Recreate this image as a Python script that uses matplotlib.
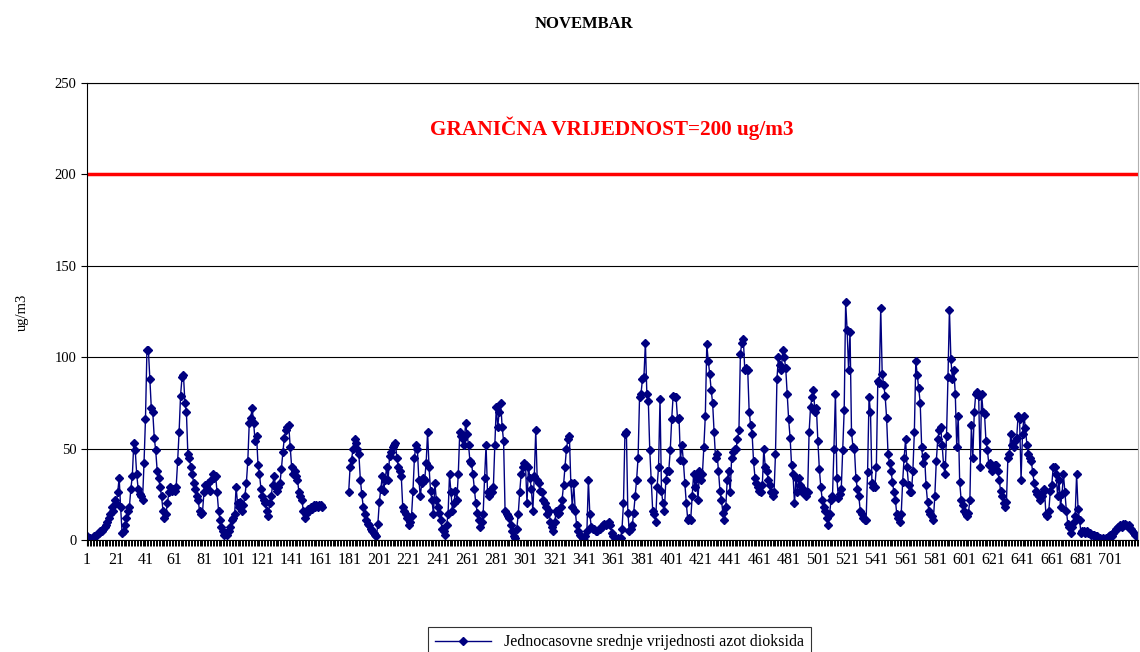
import numpy as np
import matplotlib.pyplot as plt

plt.rcParams['font.family'] = ['Liberation Serif', 'DejaVu Serif']

nan = np.nan

# hourly NO2 values (ug/m3), one list per day of November
day01 = [2, 1, 1, 0, 1, 2, 3, 3, 4, 5, 5, 6, 7, 8, 10, 12, 14, 18, 16, 22, 20, 26, 34, 18]
day02 = [4, 5, 8, 12, 16, 18, 28, 35, 53, 49, 36, 28, 25, 24, 22, 42, 66, 104, 104, 88, 72, 70, 56, 49]
day03 = [38, 34, 29, 24, 16, 12, 14, 20, 26, 29, 27, 28, 27, 29, 43, 59, 79, 89, 90, 75, 70, 47, 45, 40]
day04 = [36, 31, 28, 24, 22, 16, 14, 15, 26, 30, 28, 31, 27, 33, 36, 34, 35, 26, 16, 11, 7, 5, 3, 4]
day05 = [3, 5, 7, 11, 12, 14, 29, 20, 18, 21, 16, 19, 24, 31, 43, 64, 67, 72, 64, 54, 57, 41, 36, 28]
day06 = [24, 22, 20, 16, 13, 20, 24, 30, 35, 29, 27, 29, 31, 39, 48, 56, 60, 62, 63, 51, 40, 36, 38, 35]
day07 = [33, 26, 24, 22, 16, 12, 14, 17, 16, 18, 17, 19, 18, 19, 18, 19, 19, 18, nan, nan, nan, nan, nan, nan]
day08 = [nan, nan, nan, nan, nan, nan, nan, nan, nan, nan, nan, 26, 40, 44, 50, 55, 53, 50, 47, 33, 25, 18, 14, 11]
day09 = [9, 8, 6, 5, 4, 3, 2, 9, 21, 28, 35, 27, 33, 40, 33, 46, 48, 51, 52, 53, 45, 40, 38, 35]
day10 = [18, 16, 14, 12, 8, 10, 13, 27, 45, 52, 50, 33, 24, 31, 34, 33, 42, 59, 40, 27, 22, 14, 31, 22]
day11 = [18, 15, 11, 6, 5, 3, 8, 14, 36, 26, 16, 20, 27, 22, 36, 59, 57, 55, 52, 64, 58, 52, 43, 42]
day12 = [36, 28, 20, 15, 11, 7, 10, 14, 34, 52, 26, 24, 27, 26, 29, 52, 73, 62, 70, 75, 62, 54, 16, 14]
day13 = [13, 12, 8, 5, 2, 1, 6, 14, 26, 36, 40, 42, 41, 20, 40, 34, 28, 16, 35, 60, 33, 31, 27, 26]
day14 = [22, 20, 18, 14, 16, 10, 7, 5, 10, 16, 14, 15, 18, 22, 30, 40, 50, 55, 57, 31, 18, 31, 16, 8]
day15 = [5, 3, 2, 1, 0, 2, 5, 33, 14, 7, 6, 6, 5, 5, 6, 6, 7, 8, 9, 8, 9, 10, 8, 4]
day16 = [2, 1, 0, 1, 0, 1, 6, 20, 58, 59, 15, 5, 6, 8, 15, 24, 33, 45, 78, 80, 88, 89, 108, 80]
day17 = [76, 49, 33, 16, 14, 10, 29, 40, 77, 27, 20, 16, 33, 38, 38, 49, 66, 79, 78, 78, 66, 67, 44, 52]
day18 = [43, 31, 20, 11, 12, 11, 24, 36, 29, 34, 22, 38, 33, 36, 51, 68, 107, 98, 91, 82, 75, 59, 45, 47]
day19 = [38, 27, 22, 15, 11, 18, 33, 38, 26, 45, 48, 50, 50, 55, 60, 102, 108, 110, 93, 94, 93, 70, 63, 58]
day20 = [43, 34, 31, 29, 27, 26, 30, 50, 40, 38, 33, 30, 26, 24, 26, 47, 88, 100, 96, 93, 104, 100, 94, 80]
day21 = [66, 56, 41, 36, 20, 34, 26, 34, 30, 26, 28, 25, 24, 26, 59, 73, 78, 82, 70, 72, 54, 39, 29, 22]
day22 = [18, 16, 12, 8, 14, 22, 24, 50, 80, 34, 23, 25, 28, 49, 71, 130, 115, 93, 114, 59, 51, 50, 34, 28]
day23 = [24, 16, 14, 12, 11, 11, 37, 78, 70, 31, 29, 29, 40, 87, 86, 127, 91, 85, 79, 67, 47, 42, 38, 32]
day24 = [26, 22, 14, 12, 10, 14, 32, 45, 55, 40, 30, 26, 26, 38, 59, 98, 90, 83, 75, 51, 42, 46, 30, 21]
day25 = [16, 14, 13, 11, 24, 43, 55, 60, 62, 52, 41, 36, 57, 89, 126, 99, 88, 93, 80, 51, 68, 32, 22, 19]
day26 = [16, 14, 13, 15, 22, 63, 45, 70, 80, 81, 79, 40, 80, 70, 69, 54, 49, 41, 42, 38, 39, 41, 41, 38]
day27 = [33, 27, 24, 20, 18, 21, 45, 47, 58, 52, 51, 54, 56, 68, 66, 33, 58, 68, 61, 52, 47, 45, 43, 37]
day28 = [31, 27, 25, 24, 22, 24, 26, 28, 14, 13, 16, 27, 30, 40, 40, 36, 24, 33, 18, 25, 36, 26, 16, 9]
day29 = [7, 4, 7, 10, 13, 36, 17, 11, 4, 5, 5, 4, 5, 4, 4, 3, 3, 3, 2, 2, 1, 1, 0, 1]
day30 = [0, 1, 1, 2, 3, 2, 4, 5, 6, 7, 7, 8, 7, 9, 9, 8, 7, 8, 6, 5, 4, 3, 2, 2]

days = [day01, day02, day03, day04, day05, day06, day07, day08, day09, day10,
        day11, day12, day13, day14, day15, day16, day17, day18, day19, day20,
        day21, day22, day23, day24, day25, day26, day27, day28, day29, day30]
no2 = np.array([v for d in days for v in d], dtype=float)
hours = np.arange(1, len(no2) + 1)

limit_value = 200
tick_positions = list(range(1, 721, 20))
tick_labels = [str(t) for t in tick_positions]
series_name = "Jednocasovne srednje vrijednosti azot dioksida"

fig = plt.figure(figsize=(11.4, 6.52), dpi=100)
ax = fig.add_axes([87 / 1140, 1 - 540 / 652, 1051 / 1140, 457 / 652])

ax.plot(hours, no2, color='#000080', lw=1, marker='D', ms=3.8,
        label=series_name)
ax.axhline(limit_value, color='#ff0000', lw=2.5)

ax.set_xlim(1, 720)
ax.set_ylim(0, 250)
ax.set_yticks(range(0, 251, 50))
ax.set_xticks(tick_positions)
ax.set_xticklabels(tick_labels)
ax.set_xticks(hours, minor=True)
ax.yaxis.grid(True, color='black', lw=0.8)
ax.set_axisbelow(True)

ax.tick_params(axis='both', which='major', direction='out', length=4,
               width=0.8, labelsize=10.5, color='black')
ax.tick_params(axis='x', which='major', labelsize=11.5, pad=5)
ax.tick_params(axis='x', which='minor', direction='out', length=4, width=0.7)
for s in ['left', 'bottom', 'top']:
    ax.spines[s].set_color('black')
    ax.spines[s].set_linewidth(0.8)
ax.spines['right'].set_color('#b0b0b0')

fig.text(584 / 1140, 1 - 24 / 652, 'NOVEMBAR', ha='center', va='center',
         fontsize=12, fontweight='bold')
fig.text(612 / 1140, 1 - 128 / 652, 'GRANIČNA VRIJEDNOST=200 ug/m3',
         ha='center', va='center', color='#ff0000', fontsize=15.3,
         fontweight='bold')
fig.text(22 / 1140, 1 - 312 / 652, 'ug/m3', rotation=90, ha='center',
         va='center', fontsize=10.5)

leg = fig.legend(loc='upper left', bbox_to_anchor=(428 / 1140, 1 - 627 / 652),
                 frameon=True, fancybox=False, edgecolor='black', fontsize=11.5,
                 handlelength=3.5, borderpad=0.45, borderaxespad=0)
leg.get_frame().set_linewidth(0.8)

fig.savefig('out.png', dpi=100)
